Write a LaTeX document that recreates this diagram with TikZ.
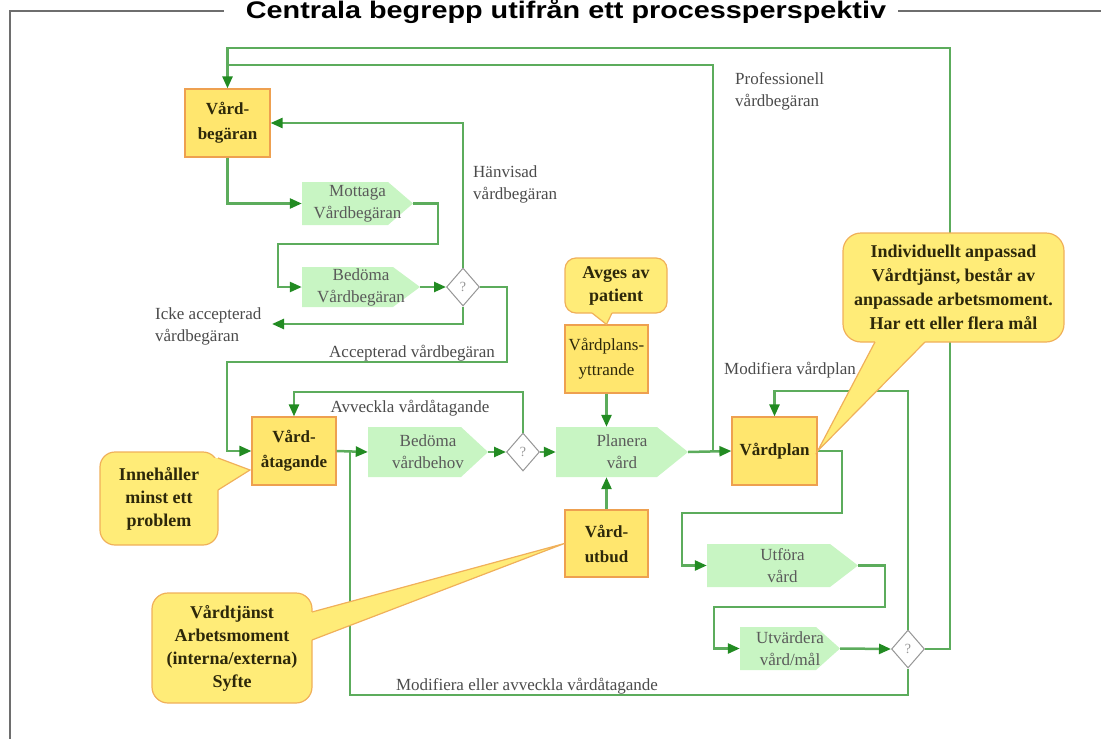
\documentclass[tikz,border=0pt]{standalone}
\usepackage{fontspec}
\setmainfont{Liberation Serif}
\newfontfamily\titlefont{Liberation Sans}
\usepackage{graphicx}
\usetikzlibrary{shapes.geometric,arrows.meta,calc}
\definecolor{boxfill}{RGB}{255,230,110}
\definecolor{boxline}{RGB}{238,160,80}
\definecolor{callfill}{RGB}{255,236,120}
\definecolor{callline}{RGB}{240,176,90}
\definecolor{gfill}{RGB}{200,245,195}
\definecolor{lineg}{RGB}{92,172,92}
\definecolor{arrg}{RGB}{34,139,34}
\definecolor{diagray}{RGB}{150,150,150}
\definecolor{framegray}{RGB}{110,110,110}
\definecolor{labtext}{RGB}{75,75,75}
\definecolor{gtext}{RGB}{90,90,90}
\definecolor{boxtext}{RGB}{45,40,10}
\begin{document}
\begin{tikzpicture}[x=1pt,y=-1pt,
  ybox/.style={draw=boxline, fill=boxfill, line width=1.2, inner sep=0, align=center,
    font=\bfseries\fontsize{17}{25}\selectfont, text=boxtext},
  ybox regular/.style={ybox, font=\fontsize{17}{25}\selectfont},
  gshape/.style={inner sep=0, fill=white, align=center, font=\fontsize{17}{22}\selectfont, text=gtext,
    path picture={\fill[gfill] (path picture bounding box.north west)
      -- ($(path picture bounding box.north east)+(-#1,0)$)
      -- (path picture bounding box.east)
      -- ($(path picture bounding box.south east)+(-#1,0)$)
      -- (path picture bounding box.south west) -- cycle;}},
  dia/.style={diamond, draw=diagray, fill=white, line width=1, minimum width=33, minimum height=38,
    inner sep=0, font=\fontsize{14}{14}\selectfont, text=diagray},
  callbox/.style={draw=callline, fill=callfill, line width=1.2, inner sep=0, align=center,
    font=\bfseries\fontsize{18}{23}\selectfont, text=boxtext},
  lab/.style={inner sep=0, font=\fontsize{17}{22}\selectfont, text=labtext},
  conn/.style={draw=lineg, line width=2.5},
  arr/.style={conn, -{Triangle[length=12,width=10,color=arrg]}},
  wedgefill/.style={fill=callfill},
  wedgeline/.style={draw=callline, line width=1.2, line join=miter}
]
\useasboundingbox (0,0) rectangle (1101,739);

% frame and title
\draw[framegray, line width=1.2] (10,739) -- (10,11) -- (224,11);
\draw[framegray, line width=1.2] (898,11) -- (1101,11);
\node[anchor=base, inner sep=0] (title) at (566,18)
  {\scalebox{1.2}[1]{\titlefont\bfseries\fontsize{24}{24}\selectfont Centrala begrepp utifrån ett processperspektiv}};

% yellow boxes
\node[ybox, minimum width=85, minimum height=68] (vb) at (227.5,123) {Vård-\\begäran};
\node[ybox, minimum width=84, minimum height=68] (va) at (294,451) {Vård-\\åtagande};
\node[ybox regular, minimum width=83, minimum height=68] (vpy) at (606.5,359) {Vårdplans-\\yttrande};
\node[ybox, minimum width=83, minimum height=67] (vu) at (606.5,543.5) {Vård-\\utbud};
\node[ybox, minimum width=85, minimum height=68] (vp) at (774.5,451) {Vårdplan};

% green process shapes
\node[gshape=25, minimum width=111, minimum height=43] (mot) at (357.5,203.5) {Mottaga\\Vårdbegäran};
\node[gshape=27, minimum width=118, minimum height=40] (bvb) at (361,287) {Bedöma\\Vårdbegäran};
\node[gshape=27, minimum width=120, minimum height=50] (bvh) at (428,452) {Bedöma\\vårdbehov};
\node[gshape=31, minimum width=132, minimum height=50] (pv) at (622,452) {Planera\\vård};
\node[gshape=28, minimum width=151, minimum height=43] (uv) at (782.5,565.5) {Utföra\\vård};
\node[gshape=24, minimum width=100, minimum height=43] (uvm) at (790,648.5) {Utvärdera\\vård/mål};

% decisions
\node[dia] (d1) at (463,287) {?};
\node[dia] (d2) at (523,452) {?};
\node[dia] (d3) at (908,649) {?};

% junction / free-end coordinates
\coordinate (j1) at (350,451);
\coordinate (j2) at (713,452);
\coordinate (icke) at (272,324);

% connectors
\draw[arr] (d3.east) -| (950,48) -| (vb.north);
\draw[conn] (j2) |- (227.5,65);
\draw[arr] (vb.south) |- (mot.west);
\draw[arr] (mot.east) -- (438,203.5) |- (278,244) |- (bvb.west);
\draw[arr] (bvb.east) -- (d1.west);
\draw[arr] (d1.north) |- (vb.east);
\draw[arr] (d1.south) |- (icke);
\draw[arr] (d1.east) -| (507,362) -| (227,451) -- (va.west);
\draw[arr] (va.east) -- (bvh.west);
\draw[arr] (bvh.east) -- (d2.west);
\draw[arr] (d2.north) |- (294,392) -- (va.north);
\draw[arr] (d2.east) -- (pv.west);
\draw[arr] (vpy.south) -- (vpy.south |- pv.north);
\draw[arr] (vu.north) -- (vu.north |- pv.south);
\draw[arr] (pv.east) -- (vp.west);
\draw[arr] (vp.east) -| (842,513) -| (682,565.5) -- (uv.west);
\draw[arr] (uv.east) -| (885,607) -| (714,648.5) -- (uvm.west);
\draw[arr] (uvm.east) -- (d3.west);
\draw[arr] (d3.north) |- (774.5,391) -- (vp.north);
\draw[conn] (d3.south) |- (350,695) -- (j1);

% connector labels
\node[lab, anchor=west, align=left] (lhan) at (473,184) {Hänvisad\\vårdbegäran};
\node[lab, anchor=west, align=left] (licke) at (155,326) {Icke accepterad\\vårdbegäran};
\node[lab] (lacc) at (412,353) {Accepterad vårdbegäran};
\node[lab] (lavv) at (410,408) {Avveckla vårdåtagande};
\node[lab, anchor=west, align=left] (lprof) at (735,91) {Professionell\\vårdbegäran};
\node[lab] (lmodvp) at (790,370) {Modifiera vårdplan};
\node[lab] (lmodva) at (527,686) {Modifiera eller avveckla vårdåtagande};

% callouts
\node[callbox, rounded corners=11, minimum width=102, minimum height=55] (cav) at (616,285.5) {Avges av\\patient};
\fill[wedgefill] (592,309) -- (592,313) -- (vpy.north) -- (612,313) -- (612,309) -- cycle;
\draw[wedgeline] (592,313) -- (vpy.north) -- (612,313);

\node[callbox, rounded corners=15, minimum width=118, minimum height=93] (cinn) at (159,498.5) {Innehåller\\minst ett\\problem};
\fill[wedgefill] (214,458) -- (218,458) -- (250,470) -- (218,490) -- (214,490) -- cycle;
\draw[wedgeline] (218,458) -- (250,470) -- (218,490);

\node[callbox, rounded corners=16, minimum width=160, minimum height=110] (cvt) at (232,648) {Vårdtjänst\\Arbetsmoment\\(interna/externa)\\Syfte};
\fill[wedgefill] (306,612) -- (312,612) -- (vu.west) -- (312,640) -- (306,640) -- cycle;
\draw[wedgeline] (312,612) -- (vu.west) -- (312,640);

\node[callbox, rounded corners=18, minimum width=221, minimum height=109, font=\bfseries\fontsize{18}{24}\selectfont] (cind) at (953.5,287.5) {Individuellt anpassad\\Vårdtjänst, består av\\anpassade arbetsmoment.\\Har ett eller flera mål};
\fill[wedgefill] (875,337) -- (875,342) -- (vp.east) -- (925,342) -- (925,337) -- cycle;
\draw[wedgeline] (875,342) -- (vp.east) -- (925,342);
\end{tikzpicture}
\end{document}
